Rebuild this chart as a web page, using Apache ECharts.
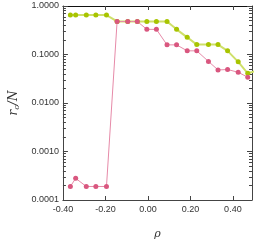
<!DOCTYPE html>
<html><head><meta charset="utf-8">
<script src="https://cdn.jsdelivr.net/npm/echarts@6/dist/echarts.min.js"></script>
<style>html,body{margin:0;padding:0;background:#fff}#c{width:254px;height:245px}</style>
</head><body><div id="c"></div>
<script>
const rhoGreen = [-0.365,-0.34,-0.29,-0.245,-0.195,-0.145,-0.095,-0.05,-0.005,0.04,0.09,0.135,0.185,0.23,0.285,0.33,0.375,0.425,0.47,0.52];
const valGreen = [0.65,0.65,0.65,0.65,0.65,0.48,0.48,0.48,0.48,0.48,0.48,0.33,0.226,0.16,0.16,0.16,0.119,0.0705,0.041,0.047];
const rhoRed = [-0.365,-0.34,-0.29,-0.245,-0.195,-0.145,-0.095,-0.05,-0.005,0.04,0.09,0.135,0.185,0.23,0.285,0.33,0.375,0.425,0.47];
const valRed = [0.00019,0.00028,0.00019,0.00019,0.00019,0.48,0.48,0.48,0.33,0.33,0.158,0.158,0.119,0.119,0.072,0.048,0.049,0.043,0.034];
const xTicks = [-0.4,-0.2,0,0.2,0.4];
const yTicks = [0.0001,0.001,0.01,0.1,1];
const yMinor = [];
for (const d of [0.0001,0.001,0.01,0.1]) for (let k=2;k<=9;k++) yMinor.push(+(d*k).toPrecision(3));

const font = 'Liberation Sans';
const axCol = '#444';
const baseX = {type:'value', min:-0.4, max:0.49, splitLine:{show:false}};
const baseY = {type:'log', logBase:10, min:0.0001, max:1, splitLine:{show:false}};
const chart = echarts.init(document.getElementById('c'));
chart.setOption({
  animation:false,
  grid:{left:57, right:2, top:6, bottom:42, containLabel:false},
  xAxis:[
    Object.assign({}, baseX, {position:'bottom',
      axisLine:{onZero:false,lineStyle:{color:axCol,width:1}},
      axisTick:{inside:true,length:4,customValues:xTicks,lineStyle:{color:axCol}},
      axisLabel:{customValues:xTicks,margin:5,fontSize:9,fontFamily:font,color:'#333',formatter:v=>v.toFixed(2)},
      name:'ρ', nameLocation:'middle', nameGap:29,
      nameTextStyle:{fontSize:11,fontStyle:'italic',fontFamily:'DejaVu Serif',color:'#333'}}),
    Object.assign({}, baseX, {position:'top',
      axisLine:{onZero:false,lineStyle:{color:'#111',width:1}},
      axisTick:{inside:true,length:4,customValues:xTicks,lineStyle:{color:axCol}},
      axisLabel:{show:false}})
  ],
  yAxis:[
    Object.assign({}, baseY, {position:'left',
      axisLine:{onZero:false,lineStyle:{color:axCol,width:1}},
      axisTick:{inside:true,length:5,customValues:yTicks,lineStyle:{color:axCol}},
      axisLabel:{customValues:yTicks,margin:4,fontSize:9,fontFamily:font,color:'#333',formatter:v=>v.toFixed(4)},
      name:'{i|r}{s|c}{i|/N}', nameLocation:'middle', nameGap:39, nameRotate:90,
      nameTextStyle:{rich:{
        i:{fontSize:12,fontStyle:'italic',fontFamily:'DejaVu Serif',color:'#333'},
        s:{fontSize:8,fontStyle:'italic',fontFamily:'DejaVu Serif',color:'#333',padding:[5,0,0,0]}}}}),
    Object.assign({}, baseY, {position:'left',
      axisLine:{show:false,onZero:false},
      axisTick:{inside:true,length:3,customValues:yMinor,lineStyle:{color:axCol}},
      axisLabel:{show:false}}),
    Object.assign({}, baseY, {position:'right',
      axisLine:{onZero:false,lineStyle:{color:axCol,width:1}},
      axisTick:{inside:true,length:5,customValues:yTicks,lineStyle:{color:axCol}},
      axisLabel:{show:false}}),
    Object.assign({}, baseY, {position:'right',
      axisLine:{show:false,onZero:false},
      axisTick:{inside:true,length:3,customValues:yMinor,lineStyle:{color:axCol}},
      axisLabel:{show:false}})
  ],
  series:[
    {type:'line', xAxisIndex:0, yAxisIndex:0, clip:true,
     data:rhoGreen.map((x,i)=>[x,valGreen[i]]),
     symbol:'circle', symbolSize:5,
     itemStyle:{color:'#a8c400'},
     lineStyle:{color:'#cfe06a',width:2}},
    {type:'line', xAxisIndex:0, yAxisIndex:0, clip:true,
     data:rhoRed.map((x,i)=>[x,valRed[i]]),
     symbol:'circle', symbolSize:5,
     itemStyle:{color:'#d9577f'},
     lineStyle:{color:'#e68aa8',width:1}}
  ]
});
</script></body></html>
